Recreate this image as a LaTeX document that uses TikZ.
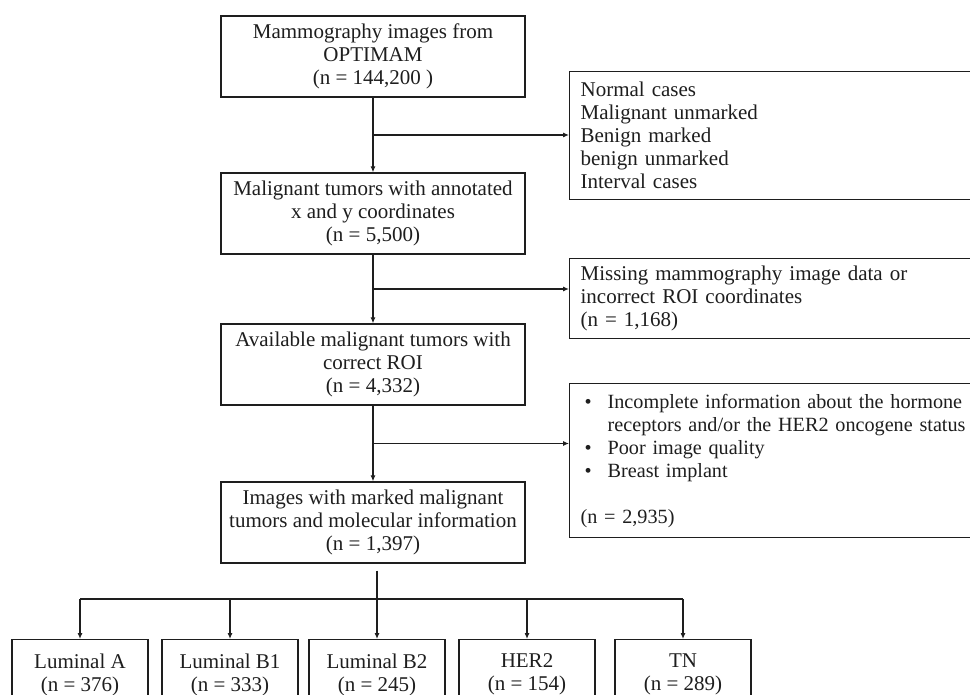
\documentclass[tikz,border=0pt]{standalone}
\usepackage{fontspec}
\setmainfont{Liberation Serif}
\usetikzlibrary{arrows.meta,calc,positioning}
\definecolor{Ink}{HTML}{1E1E1E}
\newcommand{\boxfont}{\fontsize{21}{23}\selectfont}
\tikzset{
  stage/.style={
    draw=Ink, line width=1.3pt, fill=white, text=Ink,
    minimum width=304pt, minimum height=81pt, align=center,
    inner sep=0pt, font=\boxfont
  },
  excl/.style={
    draw=Ink, line width=1.3pt, fill=white, text=Ink, anchor=north west,
    text width=400pt, inner xsep=11pt, inner ysep=0pt, align=left,
    font=\boxfont
  },
  subtype/.style={
    draw=Ink, line width=1.3pt, fill=white, text=Ink, anchor=north,
    minimum width=136pt, minimum height=70pt, align=center,
    inner sep=0pt, font=\boxfont
  },
  flow/.style={-{Latex[length=6pt,width=5pt]}, line width=1.1pt, draw=Ink},
  link/.style={line width=1.1pt, draw=Ink}
}

\begin{document}
\begin{tikzpicture}[x=1pt,y=-1pt]
    \clip (0,0) rectangle (970,695);
    \node[stage] (optimam) at (373,56.5) {Mammography images from\\OPTIMAM\\(n = 144,200 )};
    \node[stage] (annot) at (373,213.5) {Malignant tumors with annotated\\x and y coordinates\\(n = 5,500)};
    \node[stage] (roi) at (373,364.5) {Available malignant tumors with\\correct ROI\\(n = 4,332)};
    \node[stage] (molec) at (373,522.5) {Images with marked malignant\\tumors and molecular information\\(n = 1,397)};
    \node[excl,minimum height=128pt] (normal) at (569,71) {Normal cases\\Malignant unmarked\\Benign marked\\benign unmarked\\Interval cases};
    \node[excl,minimum height=80pt] (missing) at (569,258) {Missing mammography image data or\\incorrect ROI coordinates\\(n = 1,168)};
    \node[excl,minimum height=154pt,font=\fontsize{20.2}{23}\selectfont] (quality) at (569,383) {\hspace*{4pt}\makebox[23pt][l]{\textbullet}Incomplete information about the hormone\\
      \hspace*{27pt}receptors and/or the HER2 oncogene status\\
      \hspace*{4pt}\makebox[23pt][l]{\textbullet}Poor image quality\\
      \hspace*{4pt}\makebox[23pt][l]{\textbullet}Breast implant\\[23pt]
      (n = 2,935)};
    \node[subtype] (luma) at (80,639) {Luminal A\\(n = 376)};
    \node[subtype] (lumbone) at (230,639) {Luminal B1\\(n = 333)};
    \node[subtype] (lumbtwo) at (377,639) {Luminal B2\\(n = 245)};
    \node[subtype] (her) at (527,639) {HER2\\(n = 154)};
    \node[subtype] (tn) at (683,639) {TN\\(n = 289)};
    \coordinate (cutone) at ($(optimam.south)!0.5!(annot.north)$);
    \coordinate (cuttwo) at ($(annot.south)!0.5!(roi.north)$);
    \coordinate (cutthree) at ($(roi.south)!0.5!(molec.north)$);
    \coordinate (stem) at ($(lumbtwo.north |- molec.south)+(0,7)$);
    \coordinate (split) at (377,599);
    \draw[flow] (optimam) -- (annot);
    \draw[flow] (annot) -- (roi);
    \draw[flow] (roi) -- (molec);
    \draw[flow] (cutone) -- (cutone -| normal.west);
    \draw[flow] (cuttwo) -- (cuttwo -| missing.west);
    \draw[flow] (cutthree) -- (cutthree -| quality.west);
    \draw[link] (stem) -- (split);
    \draw[link] (split -| luma.north) -- (split -| tn.north);
    \foreach \sub in {luma,lumbone,lumbtwo,her,tn}
      \draw[flow] (split -| \sub.north) -- (\sub.north);
  \end{tikzpicture}
\end{document}
